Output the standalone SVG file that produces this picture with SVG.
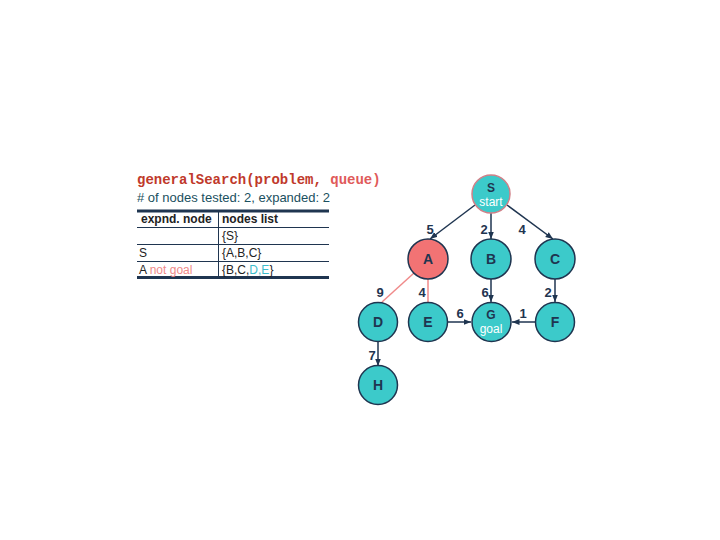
<svg xmlns="http://www.w3.org/2000/svg" width="720" height="540" viewBox="0 0 720 540">
<defs>
<marker id="ah" viewBox="0 0 10 10" refX="10" refY="5" markerWidth="5" markerHeight="5" orient="auto"><path d="M0,1 L10,5 L0,9 z" fill="#1f3550"/></marker>
<style>
.n{fill:#3ccaca;stroke:#1f3550;stroke-width:1.5}
.lt{font-family:"Liberation Sans",Arial,sans-serif;font-weight:bold;font-size:14px;fill:#1f3550;text-anchor:middle}
.ls{font-family:"Liberation Sans",Arial,sans-serif;font-weight:bold;font-size:12px;fill:#1f3550;text-anchor:middle}
.sub{font-family:"Liberation Sans",Arial,sans-serif;font-size:12px;fill:#ffffff;text-anchor:middle}
.e{stroke:#1f3550;stroke-width:1.5;fill:none;marker-end:url(#ah)}
.ep{stroke:#f08a8a;stroke-width:1.5;fill:none}
.w{font-family:"Liberation Sans",Arial,sans-serif;font-weight:bold;font-size:13px;fill:#1f3550;text-anchor:middle}
.t{font-family:"Liberation Sans",Arial,sans-serif;font-size:12px;fill:#222222}
.tl{stroke:#1f3550;stroke-width:1}
.tk{stroke:#1f3550;stroke-width:3}
</style>
</defs>
<rect width="720" height="540" fill="#ffffff"/>
<g id="title">
<text x="137" y="184" font-family="'Liberation Mono','Courier New',monospace" font-weight="bold" font-size="14" fill="#c0392b">generalSearch(problem, <tspan fill="#e05a5a">queue)</tspan></text>
<text x="137" y="202" font-family="'Liberation Sans',Arial,sans-serif" font-size="13" fill="#1a5060"># of nodes tested: 2, expanded: 2</text>
</g>
<g id="table">
<line class="tk" x1="137" y1="211" x2="329" y2="211"/>
<line class="tl" x1="137" y1="227.5" x2="329" y2="227.5"/>
<line class="tl" x1="137" y1="244.5" x2="329" y2="244.5"/>
<line class="tl" x1="137" y1="261.5" x2="329" y2="261.5"/>
<line class="tk" x1="137" y1="277.5" x2="329" y2="277.5"/>
<line class="tl" x1="218.5" y1="212" x2="218.5" y2="276"/>
<text class="t" x="141" y="223" font-weight="bold">expnd. node</text>
<text class="t" x="222" y="223" font-weight="bold">nodes list</text>
<text class="t" x="222" y="240">{S}</text>
<text class="t" x="139" y="257">S</text>
<text class="t" x="222" y="257">{A,B,C}</text>
<text class="t" x="139" y="274">A <tspan fill="#f08a8a">not goal</tspan></text>
<text class="t" x="222" y="274">{B,C,<tspan fill="#3cbccc">D,E</tspan>}</text>
</g>
<g id="connectors">
<line class="e" x1="475" y1="205" x2="430" y2="239"/>
<line class="e" x1="491" y1="213" x2="491" y2="239"/>
<line class="e" x1="507" y1="205" x2="553" y2="239"/>
<line class="ep" x1="414" y1="273" x2="382" y2="302"/>
<line class="ep" x1="428" y1="279" x2="428" y2="302"/>
<line class="e" x1="491" y1="279" x2="491" y2="302"/>
<line class="e" x1="555" y1="279" x2="555" y2="302"/>
<line class="e" x1="448" y1="322" x2="471" y2="322"/>
<line class="e" x1="535" y1="322" x2="512" y2="322"/>
<line class="e" x1="378" y1="341" x2="378" y2="366"/>
<text class="w" x="430" y="234">5</text>
<text class="w" x="484" y="234">2</text>
<text class="w" x="522" y="234">4</text>
<text class="w" x="380" y="297">9</text>
<text class="w" x="422" y="297">4</text>
<text class="w" x="485" y="297">6</text>
<text class="w" x="548" y="297">2</text>
<text class="w" x="460" y="318">6</text>
<text class="w" x="523" y="318">1</text>
<text class="w" x="372" y="360">7</text>
</g>
<g id="S"><circle cx="491" cy="194" r="19" class="n" style="stroke:#d08088"/><text class="ls" x="491" y="192">S</text><text class="sub" x="491" y="206">start</text></g>
<g id="A"><circle cx="428" cy="259" r="20" class="n" style="fill:#f27374"/><text class="lt" x="428" y="264">A</text></g>
<g id="B"><circle cx="491" cy="259" r="20" class="n"/><text class="lt" x="491" y="264">B</text></g>
<g id="C"><circle cx="555" cy="259" r="20" class="n"/><text class="lt" x="555" y="264">C</text></g>
<g id="D"><circle cx="378" cy="322" r="19.5" class="n"/><text class="lt" x="378" y="327">D</text></g>
<g id="E"><circle cx="428" cy="322" r="19.5" class="n"/><text class="lt" x="428" y="327">E</text></g>
<g id="G"><circle cx="491.5" cy="322" r="19.5" class="n"/><text class="ls" x="491" y="319">G</text><text class="sub" x="491" y="333">goal</text></g>
<g id="F"><circle cx="555" cy="322" r="19.5" class="n"/><text class="lt" x="555" y="327">F</text></g>
<g id="H"><circle cx="378" cy="385" r="19.5" class="n"/><text class="lt" x="378" y="390">H</text></g>
</svg>
